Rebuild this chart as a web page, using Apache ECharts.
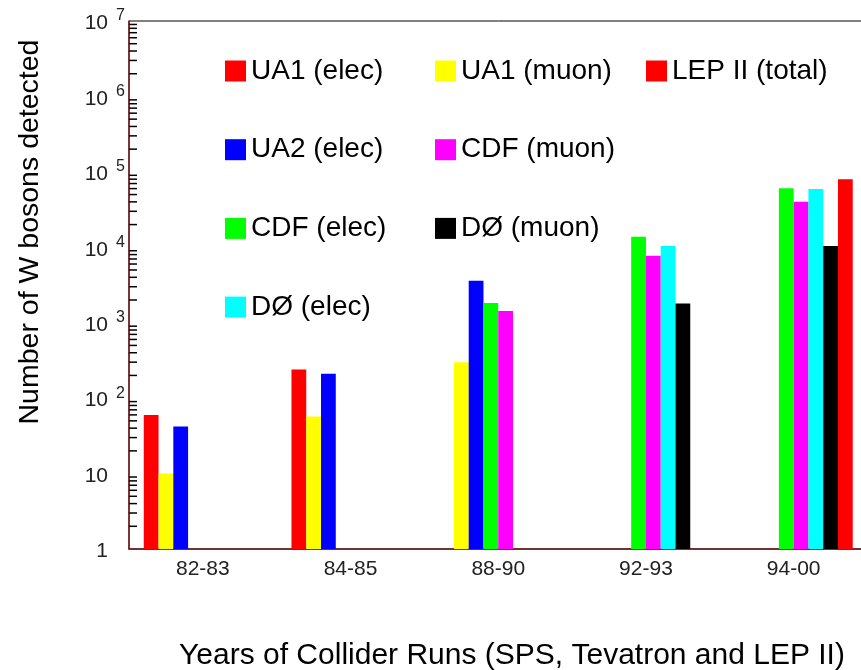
<!DOCTYPE html>
<html>
<head>
<meta charset="utf-8">
<style>
  html, body { margin: 0; padding: 0; background: #fff; overflow: hidden; }
  /* the plot frame continues a few pixels past the right edge of the window */
  #chart { width: 868px; height: 670px; }
</style>
<script src="https://cdn.jsdelivr.net/npm/echarts@6/dist/echarts.min.js"></script>
</head>
<body>
<div id="chart"></div>
<script>
// Run periods of the hadron/lepton colliders
const categories = ['82-83', '84-85', '88-90', '92-93', '94-00'];

// Number of W bosons detected per experiment and channel
const ua1Elec  = [60, 240, null, null, null];
const ua1Muon  = [10, 57, 300, null, null];
const ua2Elec  = [42, 210, 3600, null, null];
const cdfElec  = [null, null, 1830, 13800, 60500];
const cdfMuon  = [null, null, 1430, 7700, 40000];
const d0Elec   = [null, null, null, 10400, 59300];
const d0Muon   = [null, null, null, 1800, 10400];
const lepTotal = [null, null, null, null, 80000];

// Decades shown on the logarithmic axis and the minor tick multipliers
const decadeExponents = [0, 1, 2, 3, 4, 5, 6, 7];
const minorMultipliers = [2, 3, 4, 5, 6, 7, 8, 9];

const FONT = "'Liberation Sans', Arial, Helvetica, sans-serif";

const seriesDefs = [
  { name: 'UA1 (elec)',    data: ua1Elec,  color: '#ff0000' },
  { name: 'UA1 (muon)',    data: ua1Muon,  color: '#ffff00' },
  { name: 'UA2 (elec)',    data: ua2Elec,  color: '#0000ff' },
  { name: 'CDF (elec)',    data: cdfElec,  color: '#00ff00' },
  { name: 'CDF (muon)',    data: cdfMuon,  color: '#ff00ff' },
  { name: 'DØ (elec)',     data: d0Elec,   color: '#00ffff' },
  { name: 'DØ (muon)',     data: d0Muon,   color: '#000000' },
  { name: 'LEP II (total)', data: lepTotal, color: '#ff0000' }
];

const barSeries = seriesDefs.map(d => ({
  name: d.name,
  type: 'bar',
  data: d.data,
  barGap: 0,
  barCategoryGap: '20%',
  itemStyle: { color: d.color },
  emphasis: { disabled: true },
  animation: false
}));

// Minor ticks at 2..9 within each decade
const minorTickValues = [];
decadeExponents.slice(0, -1).forEach(e => {
  minorMultipliers.forEach(m => minorTickValues.push([0, m * Math.pow(10, e)]));
});

const minorTickSeries = {
  type: 'custom',
  name: 'minorTicks',
  silent: true,
  animation: false,
  z: 5,
  clip: false,
  data: minorTickValues,
  renderItem: function (params, api) {
    const y = api.coord([0, api.value(1)])[1];
    const x0 = params.coordSys.x;
    return {
      type: 'line',
      shape: { x1: x0, y1: y, x2: x0 + 8, y2: y },
      style: { stroke: '#000', lineWidth: 1.5 }
    };
  }
};

function legendBlock(left, names) {
  return {
    orient: 'vertical',
    left: left,
    top: 57,
    padding: 0,
    itemWidth: 21,
    itemHeight: 21,
    itemGap: 50.7,
    icon: 'rect',
    selectedMode: false,
    data: names,
    textStyle: { fontSize: 28, lineHeight: 27, color: '#000', fontFamily: FONT }
  };
}

const chart = echarts.init(document.getElementById('chart'), null, { renderer: 'canvas' });

chart.setOption({
  backgroundColor: '#fff',
  animation: false,
  grid: {
    left: 129,
    top: 21,
    width: 738.5,
    height: 528,
    show: true,
    borderColor: '#000',
    borderWidth: 1,
    backgroundColor: 'transparent'
  },
  legend: [
    legendBlock(225, ['UA1 (elec)', 'UA2 (elec)', 'CDF (elec)', 'DØ (elec)']),
    legendBlock(435, ['UA1 (muon)', 'CDF (muon)', 'DØ (muon)']),
    legendBlock(646, ['LEP II (total)'])
  ],
  xAxis: {
    type: 'category',
    data: categories,
    boundaryGap: true,
    axisLine: { lineStyle: { color: '#6e1a1a', width: 1.5 } },
    axisTick: { inside: true, length: 15, lineStyle: { color: '#000', width: 2 } },
    axisLabel: { margin: 10, fontSize: 21, color: '#222', fontFamily: FONT },
    splitLine: { show: false }
  },
  yAxis: {
    type: 'log',
    logBase: 10,
    min: 1,
    max: 1e7,
    splitNumber: 7,
    axisLine: { show: true, lineStyle: { color: '#7a1c1c', width: 1.5 } },
    axisTick: { inside: true, length: 16, lineStyle: { color: '#000', width: 2 } },
    splitLine: { show: false },
    axisLabel: {
      margin: 4,
      color: '#222',
      fontFamily: FONT,
      formatter: function (v) {
        const e = Math.round(Math.log10(v));
        if (e === 0) return '{b|1}{s| }';
        if (e === 1) return '{b|10}{s| }';
        return '{b|10}{s|' + e + '}';
      },
      rich: {
        b: { fontSize: 21, lineHeight: 26, verticalAlign: 'bottom', color: '#222', fontFamily: FONT, padding: [5, 0, 0, 0] },
        s: { fontSize: 16, lineHeight: 16, verticalAlign: 'top', width: 9, padding: [0, 0, 0, 8], color: '#222', fontFamily: FONT }
      }
    }
  },
  graphic: [
    {
      type: 'text',
      x: 30,
      y: 232,
      rotation: Math.PI / 2,
      style: {
        text: 'Number of W bosons detected',
        fontSize: 28.5,
        fontFamily: FONT,
        fill: '#000',
        align: 'center',
        verticalAlign: 'middle'
      }
    },
    {
      type: 'text',
      x: 512,
      y: 656,
      style: {
        text: 'Years of Collider Runs (SPS, Tevatron and LEP II)',
        fontSize: 30,
        fontFamily: FONT,
        fill: '#000',
        align: 'center',
        verticalAlign: 'middle'
      }
    }
  ],
  series: barSeries.concat([minorTickSeries])
});
</script>
</body>
</html>
